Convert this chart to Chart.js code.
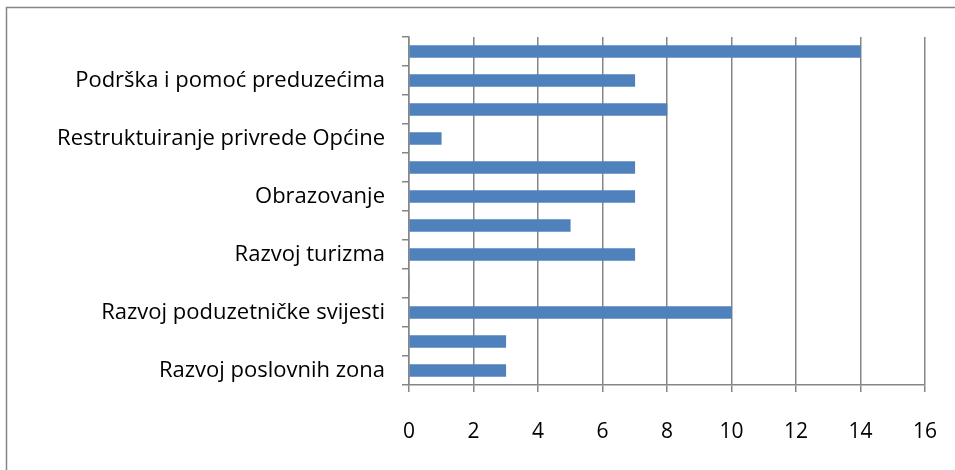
<!DOCTYPE html>
<html>
<head>
<meta charset="utf-8">
<script src="https://cdn.jsdelivr.net/npm/chart.js@4/dist/chart.umd.min.js"></script>
<style>
  html, body { margin: 0; padding: 0; background: #fff; }
  #wrap { width: 955px; height: 470px; position: relative; }
</style>
</head>
<body>
<div id="wrap"><canvas id="chart" width="955" height="470"></canvas></div>
<script>
// Categories listed top to bottom; only every other label is shown in the original
const categories = [
    '', 'Podrška i pomoć preduzećima', '', 'Restruktuiranje privrede Općine',
    '', 'Obrazovanje', '', 'Razvoj turizma',
    '', 'Razvoj poduzetničke svijesti', '', 'Razvoj poslovnih zona'
];
const values = [14, 7, 8, 1, 7, 7, 5, 7, 0, 10, 3, 3];
const xTicks = [0, 2, 4, 6, 8, 10, 12, 14, 16];

const gridColor = '#868686';
const fontFamily = '"Open Sans", Lato, sans-serif';

// outer frame of the chart object
const framePlugin = {
    id: 'frame',
    beforeDraw(chart) {
        const ctx = chart.ctx;
        ctx.save();
        ctx.fillStyle = '#fff';
        ctx.fillRect(0, 0, chart.width, chart.height);
        ctx.strokeStyle = gridColor;
        ctx.lineWidth = 1.5;
        ctx.strokeRect(6.5, 7.5, chart.width + 20, chart.height + 20);
        ctx.restore();
    }
};

new Chart(document.getElementById('chart'), {
    type: 'bar',
    data: {
        labels: categories,
        datasets: [{
            data: values,
            backgroundColor: '#4F81BD',
            borderWidth: 0,
            barThickness: 12
        }]
    },
    options: {
        indexAxis: 'y',
        responsive: false,
        animation: false,
        layout: { padding: { left: 0, right: 30, top: 37, bottom: 0 } },
        plugins: { legend: { display: false }, tooltip: { enabled: false } },
        scales: {
            x: {
                min: 0,
                max: 16,
                afterBuildTicks: axis => { axis.ticks = xTicks.map(v => ({ value: v })); },
                afterFit: axis => {
                    axis.height = 85;
                    axis.paddingLeft = 0;
                    axis.paddingRight = 0;
                },
                grid: { color: gridColor, lineWidth: 1.5, tickLength: 7 },
                border: { color: gridColor, width: 1.5 },
                ticks: {
                    color: '#000',
                    padding: 27,
                    font: { family: fontFamily, size: 21 }
                }
            },
            y: {
                afterFit: axis => {
                    axis.width = 409;
                    axis.paddingTop = 0;
                    axis.paddingBottom = 0;
                },
                grid: { drawOnChartArea: false, color: gridColor, lineWidth: 1.5, tickLength: 7, offset: true },
                border: { color: gridColor, width: 1.5 },
                ticks: {
                    autoSkip: false,
                    color: '#000',
                    padding: 17,
                    font: { family: fontFamily, size: 22 }
                }
            }
        }
    },
    plugins: [framePlugin]
});
</script>
</body>
</html>
